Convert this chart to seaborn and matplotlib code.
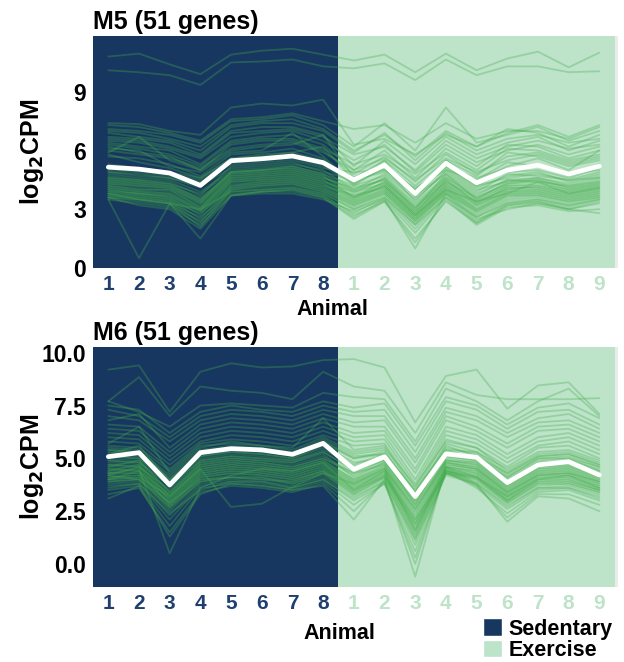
import numpy as np
import pandas as pd
import matplotlib
matplotlib.use("Agg")
import matplotlib.pyplot as plt
from matplotlib.patches import Patch
import seaborn as sns

# animals: 8 sedentary then 9 exercise
sed_labels = ["1", "2", "3", "4", "5", "6", "7", "8"]
ex_labels = ["1", "2", "3", "4", "5", "6", "7", "8", "9"]

# mean profile (white line)
m5_mean = [5.15, 5.05, 4.85, 4.22, 5.48, 5.58, 5.72, 5.38,
           4.5, 5.25, 3.8, 5.35, 4.35, 5.0, 5.25, 4.8, 5.2]
m6_mean = [5.08, 5.27, 3.74, 5.27, 5.46, 5.4, 5.19, 5.71,
           4.48, 5.08, 3.19, 5.21, 5.05, 3.85, 4.69, 4.84, 4.21]

# per-gene log2CPM, estimated from the traces
m5_genes = [
    [10.8, 10.95, 10.4, 9.9, 10.9, 11.1, 11.2, 10.9, 10.6, 10.9, 10.0, 10.95, 10.1, 10.7, 11.05, 10.25, 11.0],
    [10.1, 10.0, 9.85, 9.35, 10.5, 10.55, 10.65, 10.3, 10.2, 10.45, 9.6, 10.65, 9.85, 10.3, 10.3, 10.0, 10.05],
    [7.4, 7.35, 7.0, 6.8, 8.2, 8.4, 8.3, 8.6, 6.3, 6.6, 5.8, 6.8, 6.2, 6.9, 7.3, 6.7, 7.3],
    [7.3, 7.2, 6.9, 6.5, 7.6, 7.7, 7.9, 7.5, 7.1, 7.3, 6.4, 7.4, 6.6, 7.0, 7.0, 6.6, 7.2],
    [7.1, 7.0, 6.8, 6.4, 7.5, 7.6, 7.8, 7.3, 6.2, 7.4, 6.0, 8.2, 6.4, 6.8, 7.2, 6.5, 7.0],
    [7.0, 6.9, 6.6, 6.2, 7.3, 7.5, 7.6, 7.1, 6.0, 6.8, 5.7, 7.0, 6.2, 7.1, 6.9, 6.2, 6.8],
    [6.9, 6.7, 6.5, 6.0, 7.2, 7.4, 7.4, 7.0, 5.9, 6.9, 5.5, 6.9, 6.0, 6.6, 6.8, 6.4, 6.6],
    [6.7, 6.6, 6.4, 5.8, 7.0, 7.2, 7.2, 6.8, 5.2, 6.5, 5.3, 6.7, 5.8, 6.4, 6.7, 6.0, 6.5],
    [6.6, 6.5, 6.2, 5.7, 6.9, 7.0, 7.1, 6.7, 5.8, 6.2, 5.0, 6.5, 5.6, 6.2, 6.5, 6.1, 6.3],
    [6.5, 6.4, 6.1, 5.6, 6.7, 6.9, 7.0, 6.5, 5.5, 6.3, 4.9, 6.3, 5.4, 6.0, 6.3, 5.8, 6.2],
    [6.4, 6.2, 6.0, 5.3, 6.5, 6.7, 6.8, 6.3, 5.0, 6.0, 4.6, 6.1, 5.2, 6.3, 6.2, 5.6, 6.0],
    [6.3, 6.1, 5.8, 5.2, 6.4, 6.6, 6.6, 6.1, 5.3, 5.8, 4.8, 5.9, 5.0, 6.1, 6.0, 5.5, 5.8],
    [6.2, 5.9, 5.7, 5.0, 6.3, 6.5, 6.5, 6.0, 4.8, 5.7, 4.4, 5.8, 4.8, 5.7, 5.9, 5.4, 5.7],
    [6.0, 5.8, 5.6, 5.1, 6.1, 6.3, 6.4, 5.9, 5.0, 5.6, 4.5, 5.6, 4.9, 5.5, 5.8, 5.3, 5.6],
    [5.9, 6.7, 5.5, 5.0, 6.0, 6.2, 6.3, 6.8, 4.6, 5.5, 4.2, 5.5, 4.7, 5.9, 5.7, 5.2, 5.5],
    [6.1, 6.0, 5.2, 4.9, 5.9, 6.0, 6.9, 5.7, 4.3, 5.3, 4.0, 5.3, 4.4, 5.2, 5.6, 5.0, 6.0],
    [5.7, 5.6, 5.3, 4.7, 5.8, 5.9, 6.1, 5.6, 4.2, 5.2, 3.8, 5.2, 4.2, 5.0, 5.3, 4.9, 5.2],
    [5.8, 5.4, 5.1, 4.6, 5.6, 5.7, 5.9, 6.2, 4.5, 5.0, 4.1, 5.0, 4.5, 5.4, 5.2, 4.7, 5.3],
    [5.0, 4.9, 4.7, 4.4, 5.3, 5.4, 5.5, 5.1, 4.9, 5.0, 4.0, 5.1, 4.2, 4.6, 4.8, 4.5, 4.9],
    [4.9, 4.8, 4.6, 4.2, 5.1, 5.2, 5.3, 5.0, 4.0, 4.8, 3.5, 4.9, 4.0, 4.4, 4.6, 4.3, 4.7],
    [4.8, 4.6, 4.5, 3.9, 5.0, 5.1, 5.2, 4.8, 4.2, 4.7, 3.3, 4.7, 3.8, 4.5, 4.4, 4.2, 4.6],
    [4.7, 4.5, 4.3, 3.8, 4.9, 5.0, 5.1, 4.7, 3.8, 4.6, 3.1, 4.6, 3.6, 4.3, 4.5, 4.1, 4.5],
    [4.6, 4.4, 4.2, 3.6, 4.8, 4.9, 5.0, 4.6, 4.1, 4.5, 3.0, 4.8, 3.5, 4.2, 4.3, 4.0, 4.4],
    [4.5, 4.3, 4.1, 3.5, 4.7, 4.8, 4.9, 4.5, 3.6, 4.4, 2.9, 4.4, 3.4, 4.0, 4.2, 3.9, 4.3],
    [4.4, 4.2, 4.0, 3.4, 4.6, 4.7, 4.8, 4.4, 3.9, 4.3, 2.8, 4.5, 3.3, 4.1, 4.1, 3.8, 4.2],
    [4.3, 4.1, 3.9, 3.3, 4.5, 4.6, 4.7, 4.3, 3.5, 4.2, 2.7, 4.3, 3.2, 3.9, 4.0, 3.7, 4.1],
    [4.2, 4.0, 3.8, 3.2, 4.4, 4.5, 4.6, 4.2, 3.7, 4.1, 2.6, 4.2, 3.0, 3.8, 3.9, 3.6, 4.0],
    [4.1, 3.9, 3.7, 3.1, 4.3, 4.4, 4.5, 4.1, 3.4, 4.0, 2.5, 4.1, 2.9, 3.7, 3.8, 3.5, 3.9],
    [4.0, 3.8, 3.6, 3.0, 4.2, 4.3, 4.4, 4.0, 3.3, 3.9, 2.4, 4.0, 2.8, 3.6, 3.7, 3.4, 3.8],
    [3.9, 3.7, 3.5, 2.9, 4.1, 4.2, 4.3, 3.9, 3.2, 3.8, 2.3, 3.9, 2.7, 3.5, 3.6, 3.3, 3.7],
    [3.8, 3.6, 3.4, 2.8, 4.0, 4.1, 4.2, 3.8, 3.0, 3.7, 2.2, 3.8, 2.6, 3.4, 3.5, 3.2, 3.6],
    [3.7, 3.5, 3.3, 2.6, 3.9, 4.0, 4.1, 3.7, 2.8, 3.6, 2.0, 3.7, 2.4, 3.3, 3.4, 3.1, 3.5],
    [3.6, 3.4, 3.2, 2.4, 3.8, 3.9, 4.0, 3.6, 2.6, 3.5, 1.8, 3.6, 2.3, 3.2, 3.3, 3.0, 3.4],
    [3.5, 3.3, 3.1, 2.2, 3.7, 3.9, 3.9, 3.6, 2.5, 3.4, 1.3, 3.5, 2.2, 3.1, 3.2, 2.9, 3.0],
    [3.6, 3.2, 3.0, 2.0, 3.7, 3.8, 3.8, 3.5, 2.9, 3.5, 1.0, 3.8, 2.5, 3.0, 3.3, 3.0, 2.8],
    [5.2, 5.0, 4.8, 4.5, 5.5, 5.6, 5.7, 5.3, 4.6, 5.3, 3.8, 5.5, 4.4, 4.9, 5.0, 4.6, 5.1],
    [5.3, 5.1, 4.9, 4.6, 5.6, 5.8, 5.9, 5.5, 4.4, 5.5, 3.6, 5.2, 4.6, 5.1, 5.2, 4.8, 5.0],
    [4.9, 4.7, 4.6, 4.1, 5.4, 5.5, 5.6, 5.2, 4.3, 5.1, 3.4, 5.0, 4.1, 4.7, 4.9, 4.4, 4.8],
    [4.6, 4.5, 4.4, 3.7, 5.2, 5.3, 5.4, 4.9, 4.5, 4.9, 3.7, 4.8, 3.9, 4.8, 4.7, 4.5, 4.6],
    [4.4, 4.3, 4.2, 3.4, 4.9, 5.0, 5.2, 4.8, 3.9, 4.6, 3.2, 4.6, 3.7, 4.5, 4.6, 4.2, 4.4],
    [4.3, 4.2, 4.1, 3.3, 4.8, 4.9, 5.0, 4.6, 4.0, 4.5, 3.0, 4.5, 3.5, 4.4, 4.5, 4.1, 4.3],
    [4.2, 4.0, 4.0, 3.1, 4.7, 4.8, 4.9, 4.5, 3.7, 4.4, 3.1, 4.4, 3.6, 4.3, 4.4, 4.0, 4.2],
    [4.1, 3.9, 3.8, 3.0, 4.6, 4.7, 4.8, 4.4, 3.6, 4.3, 2.9, 4.3, 3.4, 4.2, 4.2, 3.9, 4.1],
    [4.0, 3.8, 3.7, 2.9, 4.5, 4.6, 4.7, 4.3, 3.5, 4.2, 2.8, 4.2, 3.3, 4.1, 4.1, 3.8, 4.0],
    [3.9, 3.8, 3.6, 2.7, 4.4, 4.5, 4.6, 4.2, 3.4, 4.1, 2.7, 4.1, 3.2, 4.0, 4.0, 3.7, 3.9],
    [3.8, 3.7, 3.5, 2.5, 4.2, 4.4, 4.5, 4.1, 3.3, 4.0, 2.6, 4.0, 3.1, 3.9, 3.9, 3.6, 3.8],
    [3.7, 3.6, 3.4, 2.3, 4.1, 4.3, 4.4, 4.0, 3.2, 3.9, 2.5, 3.9, 3.0, 3.8, 3.8, 3.5, 3.7],
    [3.6, 3.5, 3.3, 2.1, 4.0, 4.2, 4.3, 3.9, 3.1, 3.8, 2.4, 3.8, 2.9, 3.7, 3.7, 3.4, 3.6],
    [4.5, 4.4, 4.3, 3.5, 4.9, 5.0, 5.1, 4.7, 3.6, 4.2, 2.7, 4.0, 3.4, 3.8, 4.4, 3.8, 4.1],
    [3.5, 0.5, 3.3, 3.0, 3.9, 4.0, 4.1, 3.8, 3.0, 3.6, 2.2, 3.6, 2.6, 3.3, 3.5, 3.2, 3.5],
    [3.8, 3.5, 3.3, 1.5, 3.7, 3.9, 4.0, 3.7, 2.7, 3.4, 1.5, 3.4, 2.3, 3.2, 3.4, 3.0, 3.3],
]

m6_genes = [
    [9.2, 9.4, 7.2, 9.1, 9.5, 9.3, 9.35, 9.65, 9.7, 9.3, 6.7, 8.9, 9.2, 7.35, 8.45, 8.6, 7.1],
    [7.7, 8.85, 7.0, 8.4, 8.2, 8.1, 7.8, 9.1, 8.4, 8.2, 6.2, 8.6, 8.0, 7.8, 7.8, 7.8, 7.85],
    [7.7, 7.2, 6.5, 7.5, 7.6, 7.5, 7.4, 8.1, 7.9, 7.8, 5.8, 8.3, 7.7, 6.8, 7.7, 8.3, 7.0],
    [7.5, 7.3, 6.2, 7.2, 7.5, 7.3, 7.2, 7.7, 7.4, 7.6, 5.6, 7.9, 7.5, 6.6, 7.4, 7.6, 6.9],
    [7.3, 7.0, 6.0, 7.0, 7.3, 7.2, 7.0, 7.5, 7.2, 7.3, 5.3, 7.7, 7.3, 6.4, 7.2, 7.3, 6.6],
    [7.0, 6.8, 5.8, 6.8, 7.1, 7.0, 6.8, 7.3, 7.0, 7.0, 5.0, 7.4, 7.0, 6.2, 6.9, 7.1, 6.4],
    [6.8, 7.1, 5.5, 6.6, 6.9, 6.8, 6.6, 7.1, 6.7, 6.8, 4.8, 7.2, 6.8, 6.0, 6.7, 6.8, 6.2],
    [6.6, 6.5, 5.3, 6.4, 6.7, 6.6, 6.4, 6.9, 6.5, 6.5, 4.5, 7.0, 6.5, 5.7, 6.5, 6.6, 6.0],
    [6.4, 6.3, 5.1, 6.2, 6.5, 6.4, 6.2, 6.7, 6.2, 6.3, 4.3, 6.8, 6.3, 5.5, 6.3, 6.4, 5.8],
    [6.2, 6.1, 4.9, 6.0, 6.3, 6.2, 6.0, 6.5, 6.0, 6.1, 4.0, 6.5, 6.1, 5.2, 6.0, 6.2, 5.6],
    [6.0, 5.9, 4.7, 5.8, 6.1, 6.0, 5.8, 6.3, 5.8, 5.9, 3.8, 6.3, 5.9, 5.0, 5.8, 6.0, 5.4],
    [5.8, 5.7, 4.5, 5.7, 5.9, 5.8, 5.6, 6.1, 5.6, 5.7, 3.6, 6.1, 5.7, 4.8, 5.6, 5.8, 5.2],
    [5.7, 6.5, 4.3, 5.5, 5.8, 5.6, 5.5, 6.9, 5.4, 5.6, 3.4, 5.9, 5.5, 4.6, 5.5, 5.6, 5.0],
    [5.5, 5.4, 4.2, 5.4, 5.6, 5.5, 5.3, 5.9, 5.2, 5.4, 3.2, 5.7, 5.3, 4.5, 5.3, 5.4, 4.9],
    [5.4, 5.3, 4.0, 5.2, 5.5, 5.3, 5.2, 5.8, 5.0, 5.2, 3.0, 5.6, 5.1, 4.3, 5.1, 5.2, 4.7],
    [5.2, 5.6, 3.9, 5.1, 5.3, 5.2, 5.0, 5.6, 4.8, 5.0, 2.8, 5.4, 5.0, 4.1, 5.0, 5.0, 4.6],
    [5.0, 5.1, 3.8, 5.0, 5.2, 5.1, 4.9, 5.4, 4.7, 5.2, 3.3, 5.3, 5.0, 4.0, 4.8, 4.9, 4.5],
    [4.9, 5.0, 3.6, 4.9, 5.1, 5.0, 4.8, 5.3, 4.5, 5.0, 3.1, 5.1, 4.9, 3.9, 4.7, 4.8, 4.4],
    [4.8, 4.9, 3.4, 4.8, 5.0, 4.9, 4.7, 5.1, 4.3, 4.9, 2.9, 5.0, 4.8, 3.8, 4.6, 4.7, 4.3],
    [4.7, 4.8, 3.3, 4.7, 4.9, 4.8, 4.6, 5.0, 4.2, 4.8, 2.7, 4.9, 4.7, 3.7, 4.5, 4.6, 4.2],
    [4.6, 4.7, 3.2, 4.6, 4.8, 4.7, 4.5, 4.9, 4.0, 4.7, 2.5, 4.8, 4.6, 3.6, 4.4, 4.5, 4.1],
    [4.5, 4.6, 3.1, 4.5, 4.7, 4.6, 4.4, 4.8, 3.9, 4.6, 2.3, 4.7, 4.5, 3.5, 4.3, 4.4, 4.0],
    [4.4, 4.5, 3.0, 4.4, 4.6, 4.5, 4.3, 4.7, 3.8, 4.5, 2.1, 4.6, 4.4, 3.4, 4.2, 4.3, 3.9],
    [4.3, 4.4, 2.9, 4.3, 4.5, 4.4, 4.2, 4.6, 3.7, 4.4, 1.9, 4.6, 4.3, 3.3, 4.1, 4.2, 3.8],
    [4.2, 4.3, 2.8, 4.2, 4.4, 4.3, 4.1, 4.5, 3.6, 4.3, 1.7, 4.5, 4.2, 3.2, 4.0, 4.1, 3.7],
    [4.1, 4.2, 2.7, 4.1, 4.3, 4.2, 4.0, 4.4, 3.5, 4.2, 1.5, 4.4, 4.1, 3.1, 3.9, 4.0, 3.6],
    [4.0, 4.1, 2.6, 4.0, 4.2, 4.1, 3.9, 4.3, 3.4, 4.1, 1.3, 4.4, 4.0, 3.0, 3.8, 3.9, 3.5],
    [3.9, 4.0, 2.5, 3.9, 4.1, 4.0, 3.8, 4.2, 3.3, 4.0, 1.1, 4.3, 3.9, 2.9, 3.7, 3.8, 3.4],
    [3.8, 3.9, 2.3, 3.8, 4.0, 3.9, 3.7, 4.1, 3.2, 3.9, 0.9, 4.3, 3.8, 2.8, 3.6, 3.7, 3.3],
    [3.7, 3.8, 2.1, 3.7, 3.9, 3.8, 3.6, 4.0, 3.0, 3.8, 0.6, 4.3, 3.7, 2.6, 3.5, 3.6, 3.2],
    [3.5, 3.7, 1.8, 3.6, 3.8, 3.7, 3.5, 3.9, 2.8, 3.8, 0.3, 4.4, 3.6, 2.4, 3.4, 3.5, 3.0],
    [3.3, 3.6, 1.5, 3.4, 3.7, 3.6, 3.4, 3.8, 2.5, 3.9, 0.0, 4.5, 3.7, 2.2, 3.3, 3.3, 2.8],
    [3.1, 3.7, 1.3, 3.3, 3.8, 3.7, 3.5, 3.7, 2.1, 4.0, -0.6, 4.6, 3.8, 2.0, 3.2, 3.1, 2.5],
    [4.3, 4.5, 0.5, 3.6, 4.2, 4.5, 4.4, 4.8, 3.5, 4.4, 1.6, 4.6, 4.1, 3.2, 4.0, 4.2, 3.6],
    [4.0, 4.1, 3.2, 4.5, 2.7, 2.85, 3.65, 4.3, 3.8, 4.5, 2.6, 4.8, 4.5, 3.4, 4.2, 4.3, 3.9],
    [5.3, 5.2, 4.0, 5.2, 5.4, 5.3, 5.1, 5.7, 5.0, 5.3, 3.4, 5.5, 5.2, 4.2, 5.0, 5.1, 4.6],
    [5.1, 5.0, 3.9, 5.1, 5.3, 5.2, 5.0, 5.5, 4.6, 5.1, 3.2, 5.2, 5.1, 4.1, 4.9, 5.0, 4.4],
    [4.9, 4.8, 3.7, 4.9, 5.1, 5.0, 4.9, 5.3, 4.4, 4.9, 3.0, 5.1, 4.9, 3.9, 4.8, 4.8, 4.3],
    [4.7, 4.6, 3.5, 4.8, 5.0, 4.9, 4.8, 5.2, 4.1, 4.8, 2.8, 4.9, 4.8, 3.7, 4.7, 4.7, 4.2],
    [4.6, 4.9, 3.4, 4.7, 4.9, 4.8, 4.6, 5.0, 4.3, 4.7, 2.6, 4.9, 4.7, 3.6, 4.6, 4.6, 4.1],
    [4.5, 4.4, 3.3, 4.6, 4.8, 4.7, 4.5, 4.9, 4.0, 4.6, 2.4, 4.8, 4.6, 3.5, 4.5, 4.5, 4.0],
    [4.4, 4.7, 3.2, 4.5, 4.7, 4.6, 4.4, 4.8, 3.9, 4.5, 2.2, 4.7, 4.5, 3.4, 4.4, 4.4, 3.9],
    [4.3, 4.3, 3.1, 4.4, 4.6, 4.5, 4.3, 4.7, 3.8, 4.4, 2.0, 4.6, 4.4, 3.3, 4.3, 4.3, 3.8],
    [4.2, 4.6, 3.0, 4.3, 4.5, 4.4, 4.2, 4.6, 3.7, 4.3, 1.8, 4.5, 4.3, 3.2, 4.2, 4.2, 3.7],
    [4.1, 4.2, 2.9, 4.2, 4.4, 4.3, 4.1, 4.5, 3.6, 4.2, 1.6, 4.4, 4.2, 3.1, 4.1, 4.1, 3.6],
    [4.0, 4.4, 2.8, 4.1, 4.3, 4.2, 4.0, 4.4, 3.5, 4.1, 1.4, 4.4, 4.1, 3.0, 4.0, 4.0, 3.5],
    [5.6, 5.5, 4.4, 5.6, 5.7, 5.6, 5.4, 6.0, 5.3, 5.5, 3.7, 5.8, 5.5, 4.4, 5.2, 5.3, 4.8],
    [4.2, 4.0, 2.9, 4.0, 4.1, 4.0, 3.9, 4.4, 3.4, 4.2, 2.1, 4.3, 4.1, 3.0, 3.9, 3.9, 3.5],
    [3.9, 4.0, 2.7, 3.9, 4.1, 4.1, 3.8, 4.3, 3.3, 4.1, 1.9, 4.3, 4.0, 2.9, 3.8, 3.8, 3.4],
    [3.6, 3.8, 2.4, 3.5, 3.9, 3.9, 3.6, 4.0, 3.1, 3.9, 1.2, 4.2, 3.8, 2.7, 3.6, 3.6, 3.1],
    [5.4, 5.3, 4.1, 5.3, 5.5, 5.4, 5.2, 5.8, 5.1, 5.2, 3.5, 5.4, 5.3, 4.3, 5.1, 5.2, 4.7],
]

SED_COL = "#173760"
EX_COL = "#bde3c9"
LINE_COL = "#45ad4d"
SED_TICK = "#1f3f6e"

sns.set_style("white")
plt.rcParams["font.family"] = ["Liberation Sans", "DejaVu Sans"]
plt.rcParams["font.weight"] = "bold"
plt.rcParams["text.color"] = "black"
plt.rcParams["axes.labelcolor"] = "black"
plt.rcParams["ytick.color"] = "black"

n_sed = len(sed_labels)
n_all = n_sed + len(ex_labels)
positions = np.arange(1, n_all + 1)


def to_long(genes):
    rows = []
    for g, vals in enumerate(genes):
        for p, v in zip(positions, vals):
            rows.append({"gene": g, "pos": p, "value": v})
    return pd.DataFrame(rows)


def draw_panel(ax, genes, mean, title, ylim, yticks, yfmt):
    ax.set_facecolor("#ebebeb")
    ax.axvspan(0.5, n_sed + 0.5, color=SED_COL, lw=0, zorder=0)
    ax.axvspan(n_sed + 0.5, n_all + 0.5, color=EX_COL, lw=0, zorder=0)
    df = to_long(genes)
    sns.lineplot(data=df, x="pos", y="value", units="gene", estimator=None,
                 color=LINE_COL, alpha=0.33, lw=1.3, ax=ax, legend=False)
    mdf = pd.DataFrame({"pos": positions, "value": mean})
    sns.lineplot(data=mdf, x="pos", y="value", color="white", lw=3.4, ax=ax)
    ax.set_xlim(0.5, n_all + 0.6)
    ax.set_ylim(*ylim)
    ax.set_yticks(yticks)
    ax.set_yticklabels([yfmt.format(t) for t in yticks], fontsize=16.5,
                       fontweight="bold", color="black")
    ax.set_xticks(positions)
    ax.set_xticklabels(sed_labels + ex_labels, fontsize=15, fontweight="bold")
    for i, lab in enumerate(ax.get_xticklabels()):
        lab.set_color(SED_TICK if i < n_sed else EX_COL)
    for s in ax.spines.values():
        s.set_visible(False)
    ax.tick_params(axis="both", length=3, width=1, color="#333333", pad=2)
    ax.set_ylabel("log$_\\mathbf{2}$CPM", fontsize=18, fontweight="bold", color="black")
    ax.set_xlabel("Animal", fontsize=15.5, fontweight="bold", color="black")
    ax.set_title(title, loc="left", fontsize=18, fontweight="bold", pad=5, color="black")


fig = plt.figure(figsize=(6.24, 6.62), dpi=100)
ax1 = fig.add_axes([0.149, 0.5952, 0.841, 0.3504])
ax2 = fig.add_axes([0.149, 0.1133, 0.841, 0.3625])

draw_panel(ax1, m5_genes, m5_mean, "M5 (51 genes)", (0, 11.85), [0, 3, 6, 9], "{:.0f}")
draw_panel(ax2, m6_genes, m6_mean, "M6 (51 genes)", (-1.09, 10.27), [0, 2.5, 5, 7.5, 10], "{:.1f}")

ax1.xaxis.set_label_coords(0.457, -0.135)
ax2.xaxis.set_label_coords(0.47, -0.15)
ax1.yaxis.set_label_coords(-0.09, 0.5)
ax2.yaxis.set_label_coords(-0.09, 0.5)

handles = [Patch(facecolor=SED_COL, label="Sedentary"),
           Patch(facecolor=EX_COL, label="Exercise")]
leg = fig.legend(handles=handles, loc="lower left", bbox_to_anchor=(0.772, 0.0),
                 frameon=False, handlelength=0.9, handleheight=0.9,
                 handletextpad=0.3, labelspacing=0.0, borderpad=0.05, borderaxespad=0,
                 prop={"size": 15.5, "weight": "bold"})
for t in leg.get_texts():
    t.set_color("black")

fig.savefig("out.png", dpi=100)
